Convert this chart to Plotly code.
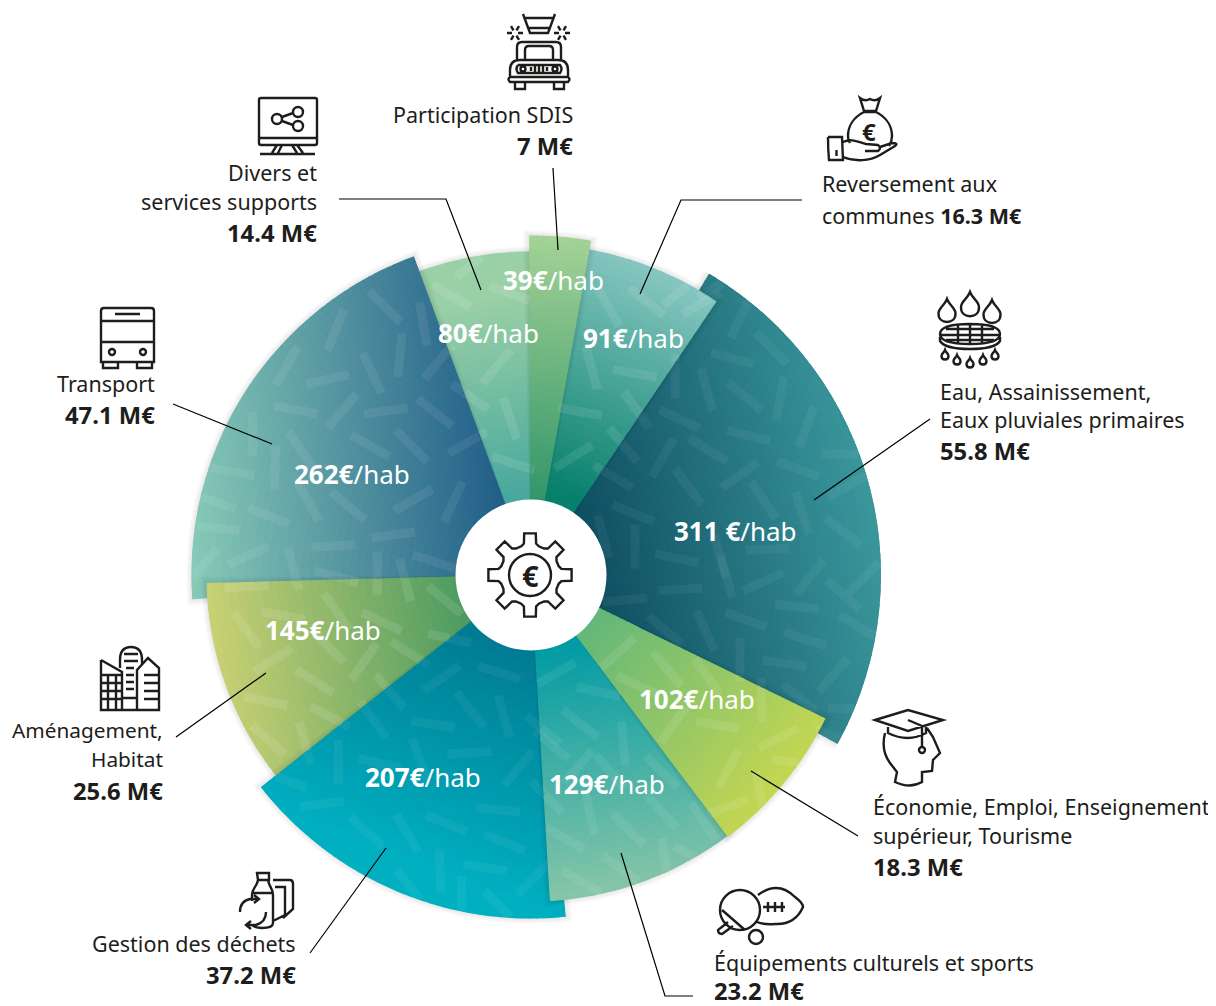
import math
import plotly.graph_objects as go

# data, in clockwise order starting at the top
names = [["Participation SDIS"], ["Reversement aux", "communes"], ["Eau, Assainissement,", "Eaux pluviales primaires"],
         ["Économie, Emploi, Enseignement", "supérieur, Tourisme"], ["Équipements culturels et sports"],
         ["Gestion des déchets"], ["Aménagement,", "Habitat"], ["Transport"], ["Divers et", "services supports"]]
budget_meur = [7, 16.3, 55.8, 18.3, 23.2, 37.2, 25.6, 47.1, 14.4]
budget_text = ["7", "16.3", "55.8", "18.3", "23.2", "37.2", "25.6", "47.1", "14.4"]
per_hab = ["39€", "91€", "311 €", "102€", "129€", "207€", "145€", "262€", "80€"]

# styles
W, H = 1216, 1006
PAGE = 8  # the page puts the figure 8px in from the corner, coordinates below are window pixels
CX, CY = 531, 575
RMAX = 350
outer_radius = [339, 330, 350, 327, 326, 343, 324, 339, 323]
extra_start = [0, 0, -3.4, 0, 0, -2.8, 0, -3.4, 0]
extra_end = [0, 0, 2.7, 0, -0.5, 0, -0.9, 1.1, 0]
grad_from = [(540, 510), (570, 500), (575, 560), (590, 630), (560, 640), (520, 640), (470, 590), (510, 520), (515, 500)]
grad_to = [(555, 240), (670, 280), (870, 500), (780, 790), (590, 890), (432, 873), (215, 620), (195, 540), (480, 300)]
col_from = ["#2f9468", "#07806b", "#0e4c60", "#66b87b", "#009ba5", "#017a92", "#4a9a62", "#205d89", "#48a89e"]
col_to = ["#a2d296", "#85c6c0", "#3a979c", "#c5d752", "#85c5a8", "#00b0c1", "#c7d073", "#86c9b7", "#9ad0a6"]
dash_alpha = [0.09, 0.09, 0.05, 0.09, 0.07, 0.05, 0.1, 0.07, 0.1]
paint_order = [8, 7, 6, 5, 4, 2, 3, 1, 0]
name_size = [21.5, 21.5, 21.5, 21.5, 21.5, 21.5, 20.8, 21.5, 21.5]
INK = "#1d1d1b"

# confetti dashes: (crop offset, then x, y, angle in 3x crop pixels)
dash_crops = [
    ((560, 270), [(540, 145, -65), (635, 235, 45), (517, 265, 15), (345, 320, -90), (440, 358, 75), (553, 378, 40), (660, 385, -80),
                  (740, 470, -70), (358, 447, 25), (566, 497, 13), (445, 540, 32), (308, 563, -60), (714, 597, 20), (540, 615, -35),
                  (385, 650, 52), (610, 690, 55), (852, 553, 0), (860, 650, -30), (727, 730, 72), (220, 730, 22), (850, 785, 38),
                  (623, 838, -3), (350, 865, 12), (160, 620, 30), (225, 830, 90), (130, 800, 75), (480, 860, 75), (470, 50, -30),
                  (260, 95, 38), (145, 110, 60), (95, 295, 75), (225, 310, 10), (230, 420, 55), (60, 425, 10), (40, 560, -32),
                  (190, 525, 50), (425, 100, -30), (360, 65, -40)]),
    ((180, 250), [(615, 170, 45), (467, 240, -68), (320, 348, -60), (730, 222, 80), (660, 315, -85), (577, 370, 65), (442, 388, -13),
                  (348, 480, 10), (487, 483, -50), (618, 483, -8), (218, 552, -90), (765, 487, 38), (775, 335, -50), (863, 578, -30),
                  (570, 587, 30), (695, 588, 45), (285, 653, -88), (362, 600, 55), (158, 665, 10), (700, 750, -30), (505, 768, 40),
                  (820, 755, -65), (385, 755, 60), (640, 855, -8), (460, 888, -3), (265, 797, 22), (112, 835, 5), (205, 917, -25),
                  (105, 755, 20), (70, 945, -50), (340, 955, 75), (592, 970, -90), (470, 980, 15), (762, 935, 18), (675, 990, 75),
                  (815, 138, 32), (990, 130, 20), (950, 350, -50), (990, 505, 72), (1000, 640, 18), (870, 440, 35), (880, 40, -40)]),
    ((200, 570), [(140, 50, -3), (250, 137, 10), (140, 180, 55), (410, 125, 55), (545, 155, 25), (735, 90, 40), (220, 270, -32),
                  (344, 334, 32), (492, 275, -55), (630, 250, 32), (385, 230, 45), (197, 393, 12), (390, 440, 28), (205, 510, 42),
                  (315, 520, 75), (750, 205, 12), (570, 365, 50), (725, 325, -35), (897, 308, 17), (810, 418, 52), (912, 440, 75),
                  (700, 463, 8), (520, 450, 55), (808, 548, -3), (955, 595, -50), (415, 575, 90), (540, 580, 12), (660, 570, 70),
                  (367, 702, -7), (895, 720, 5), (740, 760, 22), (622, 790, 60), (500, 785, 42), (915, 817, 22), (855, 893, 8),
                  (720, 903, 88), (785, 985, 90), (1000, 925, -45), (255, 630, 20), (630, 950, 50), (900, 1010, 45), (1030, 480, 40)]),
    ((530, 570), [(452, 58, -3), (700, 35, -25), (285, 90, -5), (800, 110, 6), (648, 150, 20), (940, 75, 42), (527, 183, 65),
                  (825, 207, 18), (630, 270, 90), (763, 280, 8), (910, 315, -48), (985, 170, 30), (405, 180, 40), (960, 415, 0),
                  (810, 385, 40), (920, 500, 20), (840, 20, -50), (1000, 25, -45), (590, 20, 75), (265, 248, -42), (412, 298, 50),
                  (320, 345, 25), (532, 320, 55), (430, 465, -55), (563, 465, 10), (745, 505, -27), (595, 598, -62), (695, 390, 88),
                  (595, 710, -20), (690, 670, 80), (790, 575, 5), (78, 310, -30), (205, 365, 12), (150, 460, 38), (280, 520, 85),
                  (65, 525, 40), (395, 605, 45), (145, 590, -50), (240, 605, 50), (180, 730, 78), (395, 725, 48), (295, 778, 45),
                  (520, 755, 55), (105, 805, 30), (270, 895, 35), (405, 870, 82), (155, 935, 30), (490, 860, 30), (50, 680, 45)]),
]

# sectors: the angle of each one follows its budget
total = sum(budget_meur)
theta0, theta1 = [], []
acc = -0.2
for i, b in enumerate(budget_meur):
    theta0.append(acc + extra_start[i])
    acc += b / total * 360
    theta1.append(acc + extra_end[i])


def rgb(h):
    return [int(h[k:k + 2], 16) for k in (1, 3, 5)]


def mix(i, x, y):
    (ax, ay), (bx, by) = grad_from[i], grad_to[i]
    t = ((x - ax) * (bx - ax) + (y - ay) * (by - ay)) / ((bx - ax) ** 2 + (by - ay) ** 2)
    t = max(0, min(1, t))
    a, b = rgb(col_from[i]), rgb(col_to[i])
    return "rgb(%d,%d,%d)" % tuple(a[k] + (b[k] - a[k]) * t for k in range(3))


def top_sector(x, y):
    dx, dy = x - CX, y - CY
    r = math.hypot(dx, dy)
    th = math.degrees(math.atan2(dx, -dy))
    for i in reversed(paint_order):
        if r < outer_radius[i] and (th - theta0[i]) % 360 <= theta1[i] - theta0[i]:
            return i
    return None


fig = go.Figure()
fig.add_trace(go.Scatter(x=[PAGE, W], y=[PAGE, H], mode="markers", marker=dict(opacity=0), hoverinfo="skip", showlegend=False))

for i in paint_order:
    span = theta1[i] - theta0[i]
    mid = (theta0[i] + theta1[i]) / 2
    # soft shadow under the sector
    for k in range(1, 7):
        fig.add_trace(go.Barpolar(theta=[mid], width=[span + k * 0.4], base=[70], r=[outer_radius[i] + k - 70],
                                  marker=dict(color="rgba(0,0,0,0.014)", line=dict(width=0)), hoverinfo="skip", showlegend=False))
    n_ang = math.ceil(span / 1.2)
    th, wd, ba, rr, cc = [], [], [], [], []
    for a in range(n_ang):
        t = theta0[i] + (a + 0.5) * span / n_ang
        r = 70
        while r < outer_radius[i]:
            r2 = min(r + 8, outer_radius[i])
            rm = (r + r2) / 2
            th.append(t)
            wd.append(span / n_ang)
            ba.append(r)
            rr.append(r2 - r)
            cc.append(mix(i, CX + rm * math.sin(math.radians(t)), CY - rm * math.cos(math.radians(t))))
            r = r2
    fig.add_trace(go.Barpolar(theta=th, width=wd, base=ba, r=rr, marker=dict(color=cc, line=dict(color=cc, width=1.1)),
                              hoverinfo="skip", showlegend=False))

# dashes, cut where they leave their sector
runs = {i: ([], []) for i in range(len(names))}
for (ox, oy), items in dash_crops:
    for zx, zy, ang in items:
        x0, y0 = ox + zx / 3, oy + zy / 3
        ca, sa = math.cos(math.radians(ang)), math.sin(math.radians(ang))
        prev = None
        for s in range(-22, 23):
            x, y = x0 + s * ca, y0 + s * sa
            owner = top_sector(x, y)
            if owner is not None:
                dx, dy = x - CX, y - CY
                if owner != prev and prev is not None:
                    runs[prev][0].append(None)
                    runs[prev][1].append(None)
                runs[owner][0].append(math.hypot(dx, dy))
                runs[owner][1].append(math.degrees(math.atan2(dx, -dy)))
            elif prev is not None:
                runs[prev][0].append(None)
                runs[prev][1].append(None)
            prev = owner
        if prev is not None:
            runs[prev][0].append(None)
            runs[prev][1].append(None)
for i, (rs, ts) in runs.items():
    fig.add_trace(go.Scatterpolar(r=rs, theta=ts, mode="lines", line=dict(color="rgba(255,255,255,%s)" % dash_alpha[i], width=9),
                                  hoverinfo="skip", showlegend=False))


# icons, drawn as plain line paths in page pixels
def circ(cx, cy, r):
    k = r * 0.552
    return (f"M{cx-r},{cy} C{cx-r},{cy-k} {cx-k},{cy-r} {cx},{cy-r} C{cx+k},{cy-r} {cx+r},{cy-k} {cx+r},{cy} "
            f"C{cx+r},{cy+k} {cx+k},{cy+r} {cx},{cy+r} C{cx-k},{cy+r} {cx-r},{cy+k} {cx-r},{cy} Z ")


def drop(cx, top, r):
    return (f"M{cx},{top} C{cx+r*0.3},{top+r*0.8} {cx+r},{top+r} {cx+r},{top+r*1.7} C{cx+r},{top+r*2.4} {cx+r*0.5},{top+r*2.7} {cx},{top+r*2.7} "
            f"C{cx-r*0.5},{top+r*2.7} {cx-r},{top+r*2.4} {cx-r},{top+r*1.7} C{cx-r},{top+r} {cx-r*0.3},{top+r*0.8} {cx},{top} Z ")


def star(cx, cy, r):
    out = ""
    for a in range(0, 360, 60):
        ca, sa = math.cos(math.radians(a)), math.sin(math.radians(a))
        out += f"M{cx+3*ca},{cy+3*sa} L{cx+r*ca},{cy+r*sa} "
    return out


gear = ""
teeth = 8
for k in range(teeth):
    a = k * 360 / teeth - 90
    pts = [(30, a - 17), (32, a - 11), (42, a - 8), (42, a + 8), (32, a + 11), (30, a + 17)]
    for j, (r, d) in enumerate(pts):
        x, y = 530 + r * math.cos(math.radians(d)), 575 + r * math.sin(math.radians(d))
        gear += ("M" if k == 0 and j == 0 else "L") + f"{x:.1f},{y:.1f} "
gear += "Z " + circ(530, 575, 21)

truck = ("M523,14 L530,33 L548,33 L555,14 M525,18 L553,18 M528,28 L550,28 "
         "M517,60 L517,47 Q517,42 522,42 L556,42 Q561,42 561,47 L561,60 M525,60 L525,50 Q525,46 529,46 L549,46 Q553,46 553,50 L553,60 "
         "M510,77 L510,70 Q510,60 520,60 L558,60 Q568,60 568,70 L568,77 M510,77 L568,77 Q571,79 568,82 L510,82 Q507,79 510,77 "
         "M515,82 L515,89 L525,89 L525,82 M554,82 L554,89 L564,89 L564,82 "
         "M518,65 L560,65 Q563,69 560,73 L518,73 Q515,69 518,65 "
         + circ(523, 69, 2.5) + circ(555, 69, 2.5)
         + "M531,67 L531,71 M535,66 L535,72 M539,65 L539,73 M543,66 L543,72 M547,67 L547,71 "
         + star(515, 33, 8) + star(562, 33, 8))
bag = ("M860,98 Q865,102 870,99 Q875,102 880,98 L876,111 L864,111 Z M863,112 L877,112 "
       "M864,112 C852,118 848,128 848,136 C848,140 849,141 850,143 M876,112 C888,118 892,128 892,136 C892,140 891,143 889,146 "
       "M828,137 L842,137 L843,160 L829,160 Q828,150 828,137 M836.5,150 L836.5,156 "
       "M843,142 C852,138 858,142 866,144 L878,145 Q882,148 878,151 L865,151 "
       "M843,157 C855,162 870,161 880,155 L895,146 Q899,143 892,143 L880,147 ")
water = (drop(947, 299, 8.5) + drop(970, 292, 9) + drop(992, 300, 8.5)
         + "M940,334 Q940,324 970,324 Q1000,324 1000,334 Q1000,344 970,344 Q940,344 940,334 Z "
         "M940,335 L1000,335 M946,329 L994,329 M946,340 L994,340 M958,325 L958,343 M970,324 L970,344 M982,325 L982,343 "
         "M940,337 L940,341 Q945,349 970,349 Q995,349 1000,341 L1000,337 "
         + drop(945, 350, 3.5) + drop(957, 355, 3.5) + drop(970, 358, 3.5) + drop(983, 355, 3.5) + drop(995, 350, 3.5))
school = ("M875,720 L908,710 L943,720 L908,731 Z M888,727 L888,733 Q908,743 926,733 L926,727 M908,720 L922,726 L922,748 "
          + circ(922, 750, 3)
          + "M885,733 C882,745 884,755 890,763 L897,772 L895,782 Q910,789 922,782 L922,772 L932,771 L933,760 L940,753 L933,737 L927,728 ")
sport = (circ(740, 910, 20) + circ(756, 937, 7)
         + "M758,895 Q778,880 795,897 Q803,903 803,907 Q795,925 775,924 Q765,925 757,922 "
         "M763,907 L785,907 M768,902 L768,912 M775,902 L775,912 M782,902 L782,912 "
         "M728,922 L718,930 Q718,934 722,934 L733,926 M722,910 L745,930 ")
buildings = ("M101,660 L101,710 L159,710 L159,668 L148,658 L137,670 L137,710 M101,660 L122,672 L122,710 "
             "M120,668 L120,660 Q120,647 131,647 Q142,647 142,660 L142,665 "
             "M101,675 L122,675 M101,683 L122,683 M101,691 L122,691 M101,699 L122,699 M108,675 L108,710 M116,675 L116,710 "
             "M144,675 L159,675 M144,683 L159,683 M144,691 L159,691 M144,699 L159,699 "
             "M124,654 L138,654 M124,661 L138,661 M126,668 L134,668 M126,675 L134,675 M126,682 L134,682 M126,689 L134,689 M122,698 L137,698 ")
waste = ("M257,873 L269,873 L269,880 L258,880 Z M252,895 C252,888 257,887 258,880 L268,880 C269,887 273,888 273,895 L273,923 "
         "Q273,928 262,928 Q255,928 252,925 M252,895 L252,901 M252,893 L273,893 "
         "M273,880 L290,880 Q293,880 293,884 L293,909 L283,918 M275,887 L285,887 L285,915 L273,921 "
         "M240,912 Q240,901 250,899 L258,899 M254,895 L259,899 L254,903 M266,912 Q266,922 256,925 L248,925 M251,921 L246,925 L251,929 ")
monitor = ("M261,98 L315,98 Q317,98 317,100 L317,143 Q317,145 315,145 L261,145 Q259,145 259,143 L259,100 Q259,98 261,98 Z "
           "M259,138 L317,138 M277,145 L272,153 M282,145 L278,153 M297,145 L303,153 M292,145 L297,153 M260,154 L315,154 "
           + circ(277, 119, 5) + circ(298, 112, 5) + circ(298, 126, 5) + "M282,117 L293,113 M282,121 L293,125 ")
bus = ("M104,308 L151,308 Q154,308 154,311 L154,362 L101,362 L101,311 Q101,308 104,308 Z M101,321 L154,321 M101,342 L154,342 "
       "M115,314 L140,314 " + circ(112, 352, 3) + circ(143, 352, 3)
       + "M103,362 L103,368 L118,368 L118,362 M137,362 L137,368 L152,368 L152,362 ")
icons = [gear, truck, bag, water, school, sport, buildings, waste, monitor, bus]

# leader lines
leaders = [[(553, 168), (558, 250)], [(802, 200), (681, 200), (640, 294)], [(930, 419), (814, 500)], [(858, 836), (751, 771)],
           [(693, 996), (665, 996), (621, 853)], [(310, 953), (386, 848)], [(176, 737), (266, 673)], [(173, 404), (272, 444)],
           [(339, 199), (446, 199), (481, 290)]]
shapes = [dict(type="circle", x0=CX - 75.5, x1=CX + 75.5, y0=CY - 75.5, y1=CY + 75.5, xref="x", yref="y", fillcolor="white", line=dict(width=0))]
for pts in leaders:
    shapes.append(dict(type="path", xref="x", yref="y", line=dict(color="#000000", width=1.2),
                       path="M" + " L".join(f"{x},{y}" for x, y in pts)))
for p in icons:
    shapes.append(dict(type="path", xref="x", yref="y", line=dict(color=INK, width=2.4), path=p))

# text
label_x = [(575, "right"), (820, "left"), (938, "left"), (871, "left"), (712, "left"), (298, "right"), (165, "right"), (157, "right"), (319, "right")]
label_y = [[114, 146], [183, 215], [391, 419, 451], [806, 835, 867], [962, 991], [943, 975], [730, 759, 791], [383, 415], [172, 201, 233]]
hab_pos = [(553, 280), (633, 338), (735, 531), (697, 699), (607, 784), (423, 777), (323, 630), (352, 474), (488, 333)]
FONT = "Noto Sans"
annos = []


def put(x, y, text, anchor, size, color):
    annos.append(dict(x=x, y=y, xref="x", yref="y", text=text, showarrow=False, xanchor=anchor, yanchor="middle", align=anchor,
                      font=dict(family=FONT, size=size, color=color)))


for i, lines in enumerate(names):
    x, anchor = label_x[i]
    value = f"<b>{budget_text[i]} M€</b>"
    put(hab_pos[i][0], hab_pos[i][1], f"<b>{per_hab[i]}</b>/hab", "center", 26, "white")
    if i == 1:  # this one has its value on the last text line
        put(x, label_y[i][0], lines[0], anchor, name_size[i], INK)
        put(x, label_y[i][1], lines[1] + " " + value, anchor, name_size[i], INK)
        continue
    for j, line in enumerate(lines):
        put(x, label_y[i][j], line, anchor, name_size[i], INK)
    put(x, label_y[i][-1], value, anchor, 23.8, INK)
put(530, 575, "<b>€</b>", "center", 29, INK)
put(869, 131, "<b>€</b>", "center", 24, INK)

fig.update_layout(
    width=W - PAGE, height=H - PAGE, margin=dict(l=0, r=0, t=0, b=0, autoexpand=False), paper_bgcolor="white", plot_bgcolor="rgba(0,0,0,0)",
    showlegend=False, hovermode=False, shapes=shapes, annotations=annos,
    xaxis=dict(range=[PAGE, W], domain=[0, 1], visible=False, fixedrange=True),
    yaxis=dict(range=[H, PAGE], domain=[0, 1], visible=False, fixedrange=True),
    polar=dict(domain=dict(x=[(CX - RMAX - PAGE) / (W - PAGE), (CX + RMAX - PAGE) / (W - PAGE)],
                           y=[(H - CY - RMAX) / (H - PAGE), (H - CY + RMAX) / (H - PAGE)]),
               barmode="overlay", bgcolor="rgba(0,0,0,0)",
               radialaxis=dict(range=[0, RMAX], visible=False),
               angularaxis=dict(rotation=90, direction="clockwise", visible=False)),
)
fig.write_html("out.html")
